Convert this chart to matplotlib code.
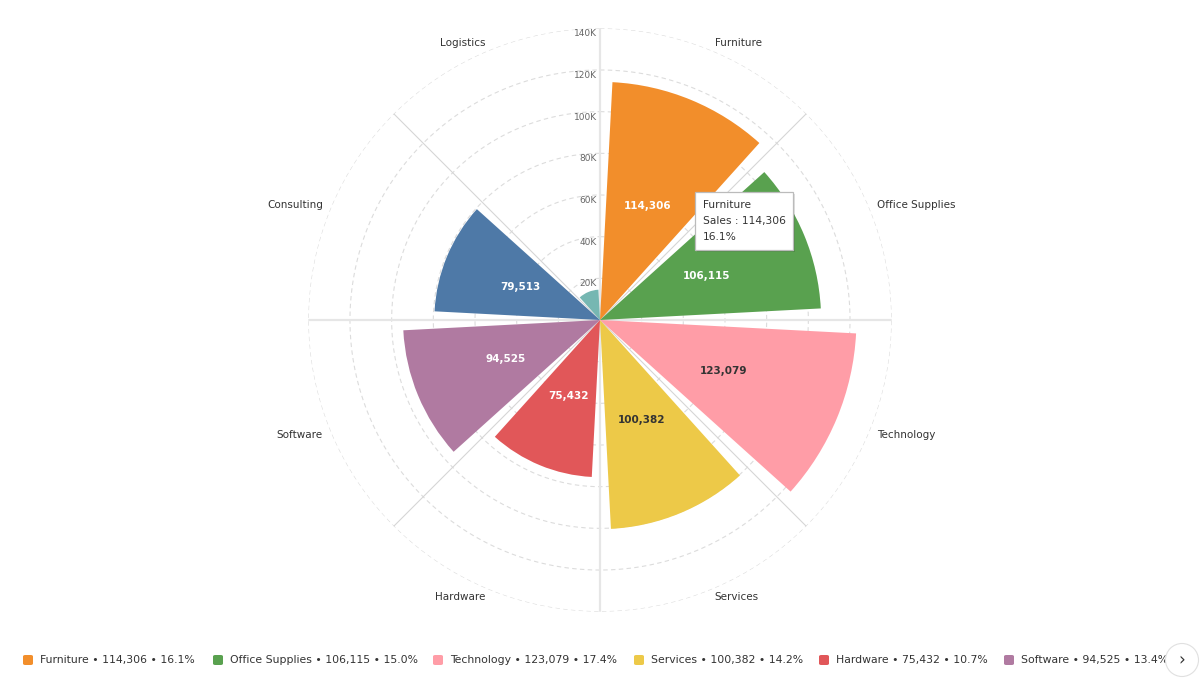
import numpy as np
import matplotlib
matplotlib.use('Agg')
import matplotlib.pyplot as plt
from matplotlib.patches import Rectangle, FancyBboxPatch, Circle
from matplotlib.transforms import offset_copy

plt.rcParams['font.family'] = ['DejaVu Sans']

# data
categories = ['Furniture', 'Office Supplies', 'Technology', 'Services',
              'Hardware', 'Software', 'Consulting', 'Logistics']
sales = [114306, 106115, 123079, 100382, 75432, 94525, 79513, 14560]
colors = ['#F28E2B', '#59A14F', '#FF9DA7', '#EDC948',
          '#E15759', '#B07AA1', '#4E79A7', '#76B7B2']
label_colors = ['white', 'white', '#333333', '#333333',
                'white', 'white', 'white', None]
ring_ticks = [20000, 40000, 60000, 80000, 100000, 120000, 140000]
ring_labels = ['20K', '40K', '60K', '80K', '100K', '120K', '140K']
legend_count = 6   # items visible on first legend page

total = sum(sales)
pct = [100.0 * s / total for s in sales]

W, H = 1200, 680
fig = plt.figure(figsize=(12, 6.8), dpi=100)
R = 291.7
cx, cy = 600, 320
ax = fig.add_axes([(cx - R) / W, (H - cy - R) / H, 2 * R / W, 2 * R / H],
                  projection='polar')
ax.set_theta_zero_location('N')
ax.set_theta_direction(-1)
ax.set_ylim(0, 140000)
ax.grid(False)
ax.set_xticks([])
ax.set_yticks([])
ax.spines['polar'].set_visible(False)

#rings and spokes
tt = np.linspace(0, 2 * np.pi, 500)
for r in ring_ticks:
    ax.plot(tt, np.full_like(tt, r), ls=(0, (4, 3)), color='#dcdcdc', lw=0.8, zorder=1)
for k in range(8):
    a = np.deg2rad(45 * k)
    if k % 2 == 0:
        ax.plot([a, a], [0, 140000], color='#e6e6e6', lw=1.6, zorder=1)
    else:
        ax.plot([a, a], [0, 140000], color='#d6d6d6', lw=0.8, zorder=1)

tick_tr = offset_copy(ax.transData, fig=fig, x=-3, y=-1, units='dots')
for r, lab in zip(ring_ticks, ring_labels):
    ax.text(0, r, lab, transform=tick_tr, ha='right', va='top',
            fontsize=6.5, color='#666666', zorder=3)

# bars
step = 2 * np.pi / len(categories)
theta = np.arange(len(categories)) * step + step / 2
ax.bar(theta, sales, width=np.deg2rad(39), color=colors, zorder=2,
       linewidth=0)

for t, v, c in zip(theta, sales, label_colors):
    if c is None:
        continue
    ax.text(t, v * 0.52, f'{v:,}', ha='center', va='center', fontsize=7.5,
            fontweight='bold', color=c, zorder=4)

for t, name in zip(theta, categories):
    ha = 'left' if t < np.pi else 'right'
    ax.text(t, 144000, name, ha=ha, va='center', fontsize=7.5,
            color='#333333', clip_on=False)

# tooltip for Furniture
def px(x, y):
    return x / W, 1 - y / H

tx, ty, tw, th = 695, 192, 98, 58
fig.add_artist(Rectangle(px(tx + 2, ty + th + 2), tw / W, th / H,
                         facecolor='#000000', alpha=0.12, linewidth=0))
fig.add_artist(Rectangle(px(tx, ty + th), tw / W, th / H,
                         facecolor='white', edgecolor='#bbbbbb', linewidth=0.9))
tip = [categories[0], f'Sales : {sales[0]:,}', f'{pct[0]:.1f}%']
for i, line in enumerate(tip):
    fig.text(*px(tx + 8, ty + 13 + 16 * i), line, fontsize=7.7,
             color='#333333', va='center', ha='left')

# legend (first page)
legend_x = [23, 213, 433, 634, 819, 1004]
for i in range(legend_count):
    x = legend_x[i]
    fig.add_artist(FancyBboxPatch(px(x, 665), 10 / W, 10 / H,
                                  boxstyle='round,pad=0,rounding_size=0.002',
                                  facecolor=colors[i], linewidth=0))
    fig.text(*px(x + 17, 660), f'{categories[i]} \u2022 {sales[i]:,} \u2022 {pct[i]:.1f}%',
             fontsize=7.8, color='#333333', va='center', ha='left')

# paging button
bx, by = px(1182, 660)
fig.add_artist(Circle((bx + 1 / W, by - 2 / H), 14 / W, transform=fig.transFigure,
                      facecolor='#000000', alpha=0.08, linewidth=0))
fig.text(bx, by, '\u203a', fontsize=12, ha='center', va='center',
         color='#333333',
         bbox=dict(boxstyle='circle,pad=0.45', facecolor='white',
                   edgecolor='#e0e0e0', linewidth=0.8))

fig.savefig('out.png', dpi=100)
